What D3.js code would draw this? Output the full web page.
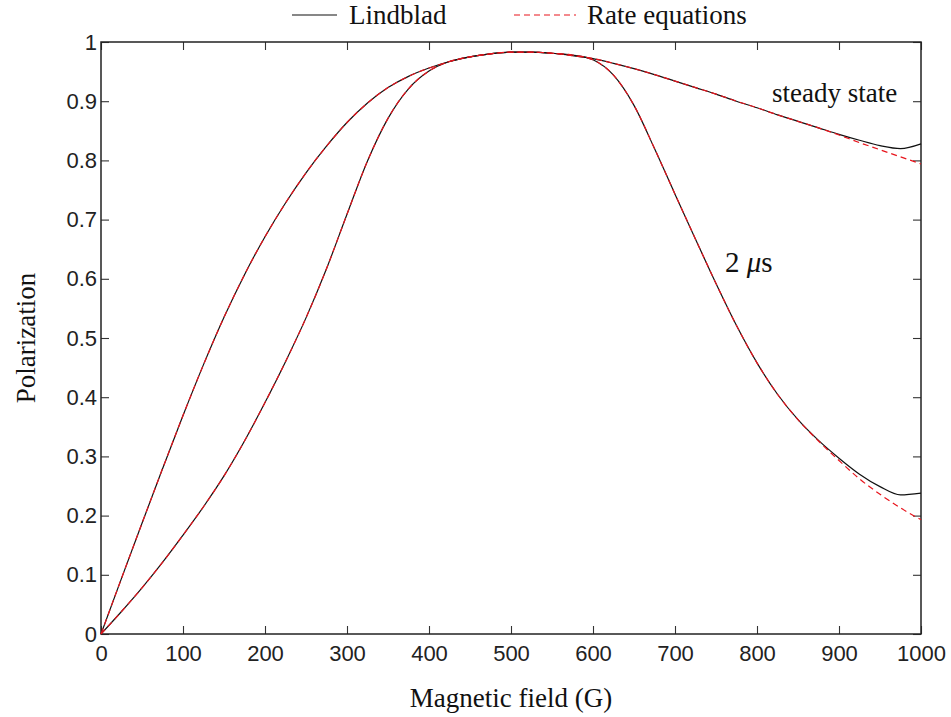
<!DOCTYPE html>
<html>
<head>
<meta charset="utf-8">
<script src="https://cdn.jsdelivr.net/npm/d3@7"></script>
<style>
  body { margin: 0; background: #fff; }
  .tick text { font-family: "Liberation Sans", Arial, sans-serif; font-size: 22px; fill: #222; }
  .serif { font-family: "Liberation Serif", "Times New Roman", serif; fill: #111; }
</style>
</head>
<body>
<svg id="chart" width="951" height="717"></svg>
<script>
// magnetic field (G)
const field = [0, 25, 50, 75, 100, 125, 150, 175, 200, 225, 250, 275, 300, 325, 350, 375, 400,
  425, 450, 475, 500, 525, 550, 575, 600, 625, 650, 675, 700, 725, 750, 775, 800, 825, 850,
  875, 900, 925, 950, 975, 1000];

// steady state, Lindblad
const steadyLindblad = [0, 0.094, 0.187, 0.279, 0.369, 0.455, 0.535, 0.607, 0.671, 0.728, 0.779,
  0.824, 0.864, 0.897, 0.923, 0.942, 0.956, 0.967, 0.975, 0.980, 0.983, 0.983, 0.981, 0.977,
  0.972, 0.964, 0.955, 0.945, 0.934, 0.923, 0.912, 0.900, 0.889, 0.877, 0.866, 0.855, 0.844,
  0.834, 0.825, 0.820, 0.828];
// steady state, rate equations
const steadyRate = [0, 0.094, 0.187, 0.279, 0.369, 0.455, 0.535, 0.607, 0.671, 0.728, 0.779,
  0.824, 0.864, 0.897, 0.923, 0.942, 0.956, 0.967, 0.975, 0.980, 0.983, 0.983, 0.981, 0.977,
  0.972, 0.964, 0.955, 0.945, 0.934, 0.923, 0.912, 0.900, 0.889, 0.877, 0.866, 0.855, 0.843,
  0.830, 0.818, 0.806, 0.794];

// 2 us, Lindblad
const pulseLindblad = [0, 0.038, 0.078, 0.121, 0.167, 0.215, 0.267, 0.326, 0.391, 0.460, 0.534,
  0.617, 0.709, 0.799, 0.871, 0.921, 0.951, 0.967, 0.975, 0.980, 0.983, 0.983, 0.981, 0.978,
  0.970, 0.944, 0.893, 0.820, 0.743, 0.667, 0.592, 0.521, 0.458, 0.405, 0.362, 0.327, 0.297,
  0.270, 0.249, 0.235, 0.238];
// 2 us, rate equations
const pulseRate = [0, 0.038, 0.078, 0.121, 0.167, 0.215, 0.267, 0.326, 0.391, 0.460, 0.534,
  0.617, 0.709, 0.799, 0.871, 0.921, 0.951, 0.967, 0.975, 0.980, 0.983, 0.983, 0.981, 0.978,
  0.970, 0.944, 0.893, 0.820, 0.743, 0.667, 0.592, 0.521, 0.458, 0.405, 0.362, 0.326, 0.293,
  0.262, 0.236, 0.213, 0.193];

const xTicks = d3.range(0, 1001, 100);
const yTicks = d3.range(0, 11).map(d => d / 10);

const margin = { top: 42, right: 30, bottom: 83, left: 101 };
const width = 951, height = 717;

const svg = d3.select("#chart");

const x = d3.scaleLinear().domain([0, 1000]).range([margin.left, width - margin.right]);
const y = d3.scaleLinear().domain([0, 1]).range([height - margin.bottom, margin.top]);

const line = (vals) => d3.line()
  .x((d, i) => x(field[i]))
  .y(d => y(d))
  .curve(d3.curveMonotoneX)(vals);

// axes (ticks inward on all four sides)
const tickLen = 8;
svg.append("g")
  .attr("transform", `translate(0,${y(0)})`)
  .call(d3.axisBottom(x).tickValues(xTicks).tickFormat(d3.format("d")).tickSize(-tickLen).tickPadding(11))
  .call(g => g.select(".domain").remove());
svg.append("g")
  .attr("transform", `translate(${x(0)},0)`)
  .call(d3.axisLeft(y).tickValues(yTicks).tickFormat(d => d === 0 || d === 1 ? d3.format("d")(d) : d3.format(".1f")(d)).tickSize(-tickLen).tickPadding(4))
  .call(g => g.select(".domain").remove());
svg.append("g")
  .attr("transform", `translate(0,${y(1)})`)
  .call(d3.axisTop(x).tickValues(xTicks).tickFormat("").tickSize(-tickLen))
  .call(g => g.select(".domain").remove());
svg.append("g")
  .attr("transform", `translate(${x(1000)},0)`)
  .call(d3.axisRight(y).tickValues(yTicks).tickFormat("").tickSize(-tickLen))
  .call(g => g.select(".domain").remove());

svg.selectAll(".tick line").attr("stroke", "#333").attr("stroke-width", 1.1);

svg.append("rect")
  .attr("x", x(0)).attr("y", y(1))
  .attr("width", x(1000) - x(0)).attr("height", y(0) - y(1))
  .attr("fill", "none").attr("stroke", "#222").attr("stroke-width", 1.5);

// curves: solid black first, red dashes drawn on top
[steadyLindblad, pulseLindblad].forEach(vals => {
  svg.append("path").attr("d", line(vals))
    .attr("fill", "none").attr("stroke", "#111").attr("stroke-width", 1.2);
});
[steadyRate, pulseRate].forEach(vals => {
  svg.append("path").attr("d", line(vals))
    .attr("fill", "none").attr("stroke", "#e8141c").attr("stroke-width", 1.2)
    .attr("stroke-dasharray", "6,4");
});

// annotations
svg.append("text").attr("class", "serif")
  .attr("x", 772).attr("y", 102)
  .attr("font-size", 27).text("steady state");
const lbl = svg.append("text").attr("class", "serif")
  .attr("x", 725).attr("y", 272).attr("font-size", 29);
lbl.append("tspan").text("2 ");
lbl.append("tspan").attr("font-style", "italic").text("\u03bc");
lbl.append("tspan").text("s");

// axis labels
svg.append("text").attr("class", "serif")
  .attr("x", (x(0) + x(1000)) / 2).attr("y", 707)
  .attr("text-anchor", "middle").attr("font-size", 27)
  .text("Magnetic field (G)");
svg.append("text").attr("class", "serif")
  .attr("transform", `translate(35,${(y(0) + y(1)) / 2}) rotate(-90)`)
  .attr("text-anchor", "middle").attr("font-size", 27)
  .text("Polarization");

// legend
const legend = svg.append("g");
legend.append("line").attr("x1", 292).attr("x2", 337).attr("y1", 15).attr("y2", 15)
  .attr("stroke", "#111").attr("stroke-width", 1.2);
legend.append("text").attr("class", "serif").attr("x", 349).attr("y", 24)
  .attr("font-size", 27).text("Lindblad");
legend.append("line").attr("x1", 514).attr("x2", 576).attr("y1", 15).attr("y2", 15)
  .attr("stroke", "#e8141c").attr("stroke-width", 1.2).attr("stroke-dasharray", "6,4");
legend.append("text").attr("class", "serif").attr("x", 587).attr("y", 24)
  .attr("font-size", 27).text("Rate equations");
</script>
</body>
</html>
